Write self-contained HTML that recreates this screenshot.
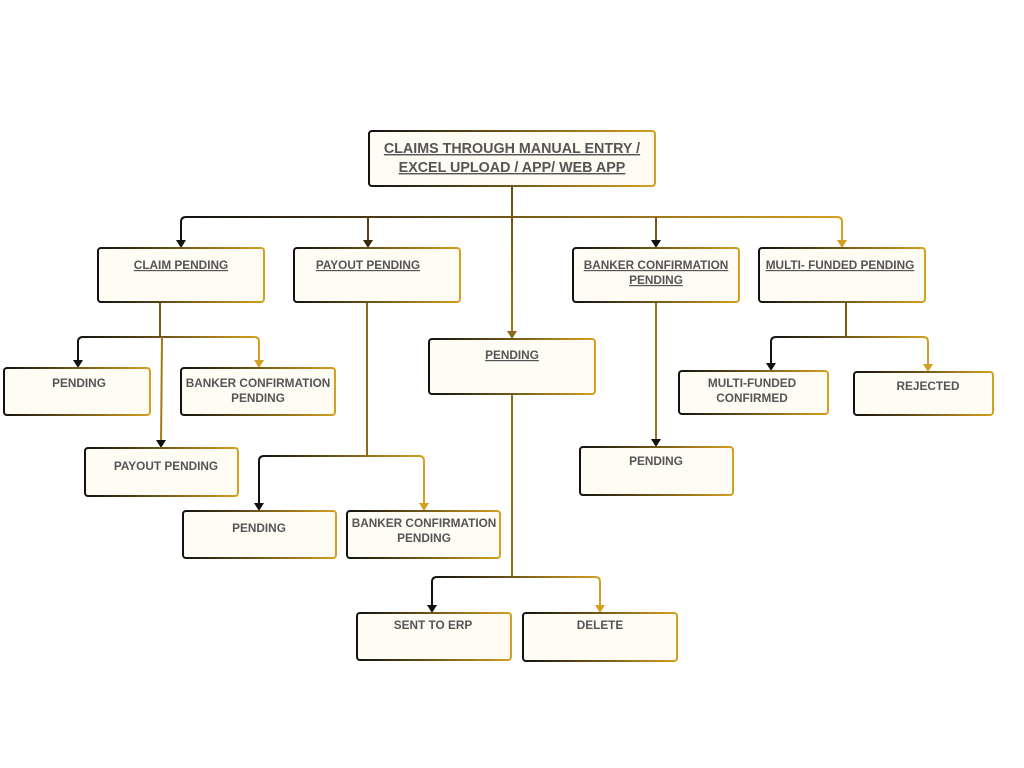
<!DOCTYPE html>
<html><head><meta charset="utf-8"><style>
html,body{margin:0;padding:0;background:#fff;width:1024px;height:768px;overflow:hidden}
text{font-family:"Liberation Sans",Arial,sans-serif;fill:#555;text-anchor:middle}
.h{font-size:14.3px;font-weight:bold;text-decoration:underline}
.s{font-size:11.8px;font-weight:600;text-decoration:underline}
.n{font-size:11.8px;font-weight:600}
</style></head><body>
<svg width="1024" height="768" xmlns="http://www.w3.org/2000/svg">
<defs>
<linearGradient id="bg" x1="0" y1="0" x2="1" y2="0"><stop offset="0" stop-color="#111"/><stop offset="1" stop-color="#d4a020"/></linearGradient>
<linearGradient id="g1" gradientUnits="userSpaceOnUse" x1="181" y1="0" x2="842" y2="0"><stop offset="0" stop-color="#111"/><stop offset="1" stop-color="#d4a020"/></linearGradient>
<linearGradient id="g2" gradientUnits="userSpaceOnUse" x1="78" y1="0" x2="259" y2="0"><stop offset="0" stop-color="#111"/><stop offset="1" stop-color="#d4a020"/></linearGradient>
<linearGradient id="g3" gradientUnits="userSpaceOnUse" x1="259" y1="0" x2="424" y2="0"><stop offset="0" stop-color="#111"/><stop offset="1" stop-color="#d4a020"/></linearGradient>
<linearGradient id="g4" gradientUnits="userSpaceOnUse" x1="432" y1="0" x2="600" y2="0"><stop offset="0" stop-color="#111"/><stop offset="1" stop-color="#d4a020"/></linearGradient>
<linearGradient id="g5" gradientUnits="userSpaceOnUse" x1="771" y1="0" x2="928" y2="0"><stop offset="0" stop-color="#111"/><stop offset="1" stop-color="#d4a020"/></linearGradient>
<linearGradient id="gv" gradientUnits="userSpaceOnUse" x1="0" y1="186" x2="0" y2="338"><stop offset="0" stop-color="#6a4c08"/><stop offset="1" stop-color="#a07a18"/></linearGradient>
</defs>
<g fill="none" stroke-width="2">
<path d="M181 245 V222 Q181 217 186 217 H837 Q842 217 842 222 V245" stroke="url(#g1)"/>
<line x1="368" y1="217" x2="368" y2="245" stroke="#5a420a"/>
<line x1="656" y1="217" x2="656" y2="245" stroke="#7a5a10"/>
<line x1="512" y1="186" x2="512" y2="336" stroke="url(#gv)"/>
<line x1="160" y1="302" x2="160" y2="337" stroke="#7a5a10"/>
<path d="M78 365 V342 Q78 337 83 337 H254 Q259 337 259 342 V365" stroke="url(#g2)"/>
<line x1="162" y1="337" x2="161" y2="445" stroke="#a07a18"/>
<line x1="367" y1="302" x2="367" y2="456" stroke="#8a6a14"/>
<path d="M259 508 V461 Q259 456 264 456 H419 Q424 456 424 461 V508" stroke="url(#g3)"/>
<line x1="512" y1="394" x2="512" y2="576" stroke="#8a6a14"/>
<path d="M432 610 V582 Q432 577 437 577 H595 Q600 577 600 582 V610" stroke="url(#g4)"/>
<line x1="656" y1="302" x2="656" y2="445" stroke="#9a7418"/>
<line x1="846" y1="302" x2="846" y2="337" stroke="#7a5a10"/>
<path d="M771 368 V342 Q771 337 776 337 H923 Q928 337 928 342 V368" stroke="url(#g5)"/>
</g>
<g>
<path d="M176 240 L186 240 L181 248 Z" fill="#111"/>
<path d="M363 240 L373 240 L368 248 Z" fill="#3a2a06"/>
<path d="M651 240 L661 240 L656 248 Z" fill="#111"/>
<path d="M837 240 L847 240 L842 248 Z" fill="#d4a020"/>
<path d="M507 331 L517 331 L512 339 Z" fill="#8a6a14"/>
<path d="M73 360 L83 360 L78 368 Z" fill="#111"/>
<path d="M254 360 L264 360 L259 368 Z" fill="#d4a020"/>
<path d="M156 440 L166 440 L161 448 Z" fill="#111"/>
<path d="M254 503 L264 503 L259 511 Z" fill="#111"/>
<path d="M419 503 L429 503 L424 511 Z" fill="#d4a020"/>
<path d="M427 605 L437 605 L432 613 Z" fill="#111"/>
<path d="M595 605 L605 605 L600 613 Z" fill="#d4a020"/>
<path d="M651 439 L661 439 L656 447 Z" fill="#111"/>
<path d="M766 363 L776 363 L771 371 Z" fill="#111"/>
<path d="M923 364 L933 364 L928 372 Z" fill="#d4a020"/>
</g>
<g fill="#fffcf4" stroke="url(#bg)" stroke-width="2">
<rect x="369" y="131" width="286" height="55" rx="3"/>
<rect x="98" y="248" width="166" height="54" rx="3"/>
<rect x="294" y="248" width="166" height="54" rx="3"/>
<rect x="573" y="248" width="166" height="54" rx="3"/>
<rect x="759" y="248" width="166" height="54" rx="3"/>
<rect x="429" y="339" width="166" height="55" rx="3"/>
<rect x="4" y="368" width="146" height="47" rx="3"/>
<rect x="181" y="368" width="154" height="47" rx="3"/>
<rect x="85" y="448" width="153" height="48" rx="3"/>
<rect x="183" y="511" width="153" height="47" rx="3"/>
<rect x="347" y="511" width="153" height="47" rx="3"/>
<rect x="357" y="613" width="154" height="47" rx="3"/>
<rect x="523" y="613" width="154" height="48" rx="3"/>
<rect x="580" y="447" width="153" height="48" rx="3"/>
<rect x="679" y="371" width="149" height="43" rx="3"/>
<rect x="854" y="372" width="139" height="43" rx="3"/>
</g>
<text class="h" x="512" y="153">CLAIMS THROUGH MANUAL ENTRY /</text>
<text class="h" x="512" y="172">EXCEL UPLOAD / APP/ WEB APP</text>
<text class="s" x="181" y="269">CLAIM PENDING</text>
<text class="s" x="368" y="269">PAYOUT PENDING</text>
<text class="s" x="656" y="269">BANKER CONFIRMATION</text>
<text class="s" x="656" y="284">PENDING</text>
<text class="s" x="840" y="269">MULTI- FUNDED PENDING</text>
<text class="s" x="512" y="359">PENDING</text>
<text class="n" x="79" y="387">PENDING</text>
<text class="n" x="258" y="387">BANKER CONFIRMATION</text>
<text class="n" x="258" y="402">PENDING</text>
<text class="n" x="166" y="470">PAYOUT PENDING</text>
<text class="n" x="259" y="532">PENDING</text>
<text class="n" x="424" y="527">BANKER CONFIRMATION</text>
<text class="n" x="424" y="542">PENDING</text>
<text class="n" x="433" y="629">SENT TO ERP</text>
<text class="n" x="600" y="629">DELETE</text>
<text class="n" x="656" y="465">PENDING</text>
<text class="n" x="752" y="387">MULTI-FUNDED</text>
<text class="n" x="752" y="402">CONFIRMED</text>
<text class="n" x="928" y="390">REJECTED</text>
</svg>
</body></html>
